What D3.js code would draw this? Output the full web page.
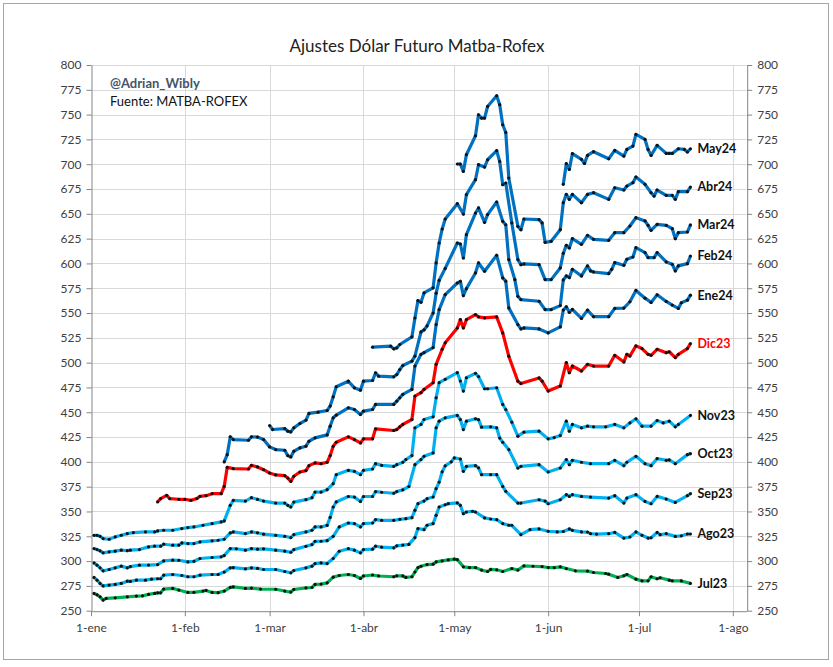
<!DOCTYPE html>
<html>
<head>
<meta charset="utf-8">
<script src="https://cdn.jsdelivr.net/npm/d3@7"></script>
<style>
  body { margin: 0; background: #fff; }
  svg text { font-family: Lato, "Open Sans", sans-serif; }
</style>
</head>
<body>
<svg width="833" height="667"></svg>
<script>
// Ajustes diarios por contrato: [fecha "MM-DD" 2023, ajuste]
var jul23 = [["01-02",267.4],["01-03",266],["01-04",264],["01-05",260.7],["01-06",262.4],["01-09",263],["01-13",264],["01-16",264.7],["01-18",265],["01-20",266.4],["01-22",267.4],["01-23",268],["01-24",268],["01-25",271.8],["01-28",272.5],["01-30",270.8],["02-02",268.4],["02-04",268.5],["02-07",269.8],["02-08",270.4],["02-10",268.4],["02-12",268.2],["02-14",269.8],["02-16",273.5],["02-17",274],["02-21",272.5],["02-23",272.8],["02-26",271.8],["03-03",271.6],["03-06",269.8],["03-08",268.8],["03-09",271.4],["03-13",273],["03-15",273.4],["03-16",276.5],["03-18",276.8],["03-20",278],["03-22",283.8],["03-24",285.5],["03-27",286.5],["03-29",285.5],["03-31",282.5],["04-01",285],["04-04",286],["04-06",285],["04-11",284.2],["04-12",285.2],["04-14",285],["04-15",283.5],["04-17",284.2],["04-18",289],["04-19",293.5],["04-20",294.8],["04-22",296.5],["04-24",296.9],["04-25",299.2],["04-27",300.2],["04-29",301.2],["05-01",301.9],["05-02",301.5],["05-04",294.2],["05-06",293.5],["05-08",293.5],["05-10",290.9],["05-12",289.5],["05-13",291.6],["05-15",291.2],["05-17",289.5],["05-20",292.5],["05-22",290.9],["05-24",295.2],["05-27",294.8],["05-30",294.5],["06-01",293.5],["06-03",293.4],["06-05",294.2],["06-07",292.5],["06-10",290.2],["06-14",289.9],["06-16",288.5],["06-20",287.5],["06-21",286.8],["06-24",283.5],["06-26",285.2],["06-27",286.5],["06-30",281.8],["07-02",280.1],["07-04",280.1],["07-05",284.2],["07-07",282.2],["07-08",283.2],["07-11",280.8],["07-12",280.1],["07-15",280],["07-18",277.5]];

var ago23 = [["01-02",283.5],["01-03",280.8],["01-04",277.5],["01-05",275],["01-07",275.8],["01-09",276.5],["01-11",277.5],["01-13",279.8],["01-14",279.5],["01-16",280.8],["01-19",280.8],["01-21",281.8],["01-23",282.2],["01-24",282.2],["01-25",285.8],["01-28",286.5],["01-31",285.5],["02-02",284.2],["02-04",284.2],["02-06",285.8],["02-10",286.5],["02-12",286.5],["02-14",288.9],["02-16",293.2],["02-17",293.5],["02-21",292.2],["02-23",293.2],["02-25",292.6],["02-27",291.5],["03-03",291.5],["03-06",289.5],["03-08",288.2],["03-09",290.5],["03-13",293.2],["03-15",294.9],["03-16",297.5],["03-18",298.2],["03-20",297.5],["03-22",302.6],["03-24",309.9],["03-27",312.5],["03-29",311],["03-31",308.3],["04-01",311.6],["04-04",312],["04-05",315],["04-07",314],["04-11",313.4],["04-12",315.4],["04-14",316.1],["04-16",316.8],["04-18",323.7],["04-19",332.8],["04-21",331.7],["04-22",336.1],["04-24",337.8],["04-25",346.1],["04-26",354.5],["04-28",356.8],["04-29",357.9],["05-02",358.6],["05-03",356.2],["05-04",347.8],["05-05",349.5],["05-07",350.2],["05-08",349.5],["05-11",343.5],["05-13",342.4],["05-15",341.7],["05-17",337.8],["05-19",336.1],["05-20",336.1],["05-23",326.7],["05-26",331.7],["05-29",332.4],["06-01",330.1],["06-04",329.4],["06-06",329.8],["06-08",332.4],["06-09",331],["06-12",329.4],["06-14",329.2],["06-15",327.6],["06-17",327.2],["06-21",327.6],["06-23",328.9],["06-26",323.2],["06-28",324.3],["06-30",329.4],["07-02",326],["07-04",323.2],["07-05",323.5],["07-07",328.9],["07-08",326.6],["07-10",327.6],["07-13",324.9],["07-15",325.5],["07-17",327.3],["07-18",327.3]];

var sep23 = [["01-02",298.2],["01-03",295.9],["01-04",293.2],["01-05",290.2],["01-07",291.5],["01-09",293.2],["01-11",294.9],["01-13",293.2],["01-14",294.5],["01-17",295.9],["01-20",296],["01-23",296.5],["01-25",300.2],["01-28",300.9],["01-30",300.8],["02-02",299.2],["02-04",299.8],["02-06",302.6],["02-10",303.6],["02-13",304.3],["02-14",305.6],["02-16",312.6],["02-18",312.4],["02-21",311],["02-23",312.6],["02-25",312],["02-27",312.4],["03-03",311],["03-06",310],["03-08",308.9],["03-09",311.6],["03-13",314.9],["03-15",316.6],["03-16",319.9],["03-18",320],["03-20",320.6],["03-22",325],["03-24",334.4],["03-27",338.4],["03-29",337.8],["03-31",334.4],["04-01",337.8],["04-04",338.4],["04-05",341.8],["04-07",341.1],["04-11",341.1],["04-13",342.1],["04-15",342.8],["04-17",343.8],["04-18",351.2],["04-19",357.9],["04-21",360.5],["04-22",362.9],["04-24",364.6],["04-25",373],["04-26",379.6],["04-27",390],["04-28",396],["04-30",400],["05-01",404],["05-03",402.9],["05-04",390.5],["05-05",395.5],["05-08",396.2],["05-09",394],["05-10",387.1],["05-13",387.1],["05-15",387.1],["05-17",375.3],["05-18",370.3],["05-22",358.5],["05-23",358.5],["05-29",361.8],["05-31",360.5],["06-01",357.8],["06-05",361.8],["06-07",366.9],["06-08",365.2],["06-09",366.9],["06-12",365.2],["06-15",364.5],["06-21",363.5],["06-23",365.9],["06-26",358.5],["06-27",363.5],["06-30",366.9],["07-03",360.1],["07-05",357.8],["07-07",365.2],["07-10",362.5],["07-13",359.1],["07-17",365.9],["07-18",367.9]];

var oct23 = [["01-02",312.6],["01-03",311.6],["01-04",310.3],["01-05",308.3],["01-07",309.3],["01-09",310],["01-11",311],["01-13",310.5],["01-14",311],["01-17",311.6],["01-20",314.3],["01-22",315],["01-24",315],["01-25",317],["01-28",316],["01-30",316],["01-31",318.3],["02-02",317.7],["02-04",317.7],["02-06",319.3],["02-10",320.4],["02-12",321],["02-14",322],["02-16",328.4],["02-17",329.4],["02-21",327.7],["02-23",329.4],["02-25",328.5],["02-27",327.1],["03-03",326],["03-06",325],["03-08",323.7],["03-09",326.7],["03-13",329.4],["03-15",331.1],["03-16",334.4],["03-18",334.4],["03-20",336],["03-21",344],["03-22",354.5],["03-23",359.6],["03-27",365.1],["03-29",364.5],["03-31",360.1],["04-01",365.1],["04-04",365.1],["04-05",370.1],["04-07",369.4],["04-11",368.4],["04-12",370.1],["04-14",371.8],["04-16",375.2],["04-18",397.2],["04-20",402.3],["04-21",405.6],["04-24",409],["04-25",434.3],["04-26",441],["04-28",444.4],["05-02",446.8],["05-03",442.7],["05-04",432.6],["05-05",441],["05-08",443.4],["05-09",442.5],["05-10",435],["05-13",435.3],["05-15",434.3],["05-16",424],["05-17",419.8],["05-19",412.4],["05-22",393.8],["05-23",395.5],["05-29",397.2],["06-01",389.8],["06-05",393.8],["06-07",402.3],["06-08",397.2],["06-09",401.6],["06-12",399.6],["06-15",398.2],["06-21",398.2],["06-23",401.6],["06-26",396.2],["06-27",399.6],["06-30",405.6],["07-03",398.2],["07-05",396.2],["07-07",403.3],["07-10",401.6],["07-11",402],["07-13",398.2],["07-17",407.3],["07-18",408.3]];

var nov23 = [["01-02",326],["01-03",326],["01-04",325],["01-05",322.7],["01-07",322],["01-09",324.4],["01-11",326],["01-13",327.7],["01-15",328.7],["01-19",329.4],["01-22",329.4],["01-23",330.4],["01-25",331.1],["01-28",331.1],["01-31",332.8],["02-02",333.8],["02-04",334.4],["02-07",336.1],["02-10",337.8],["02-13",339.5],["02-14",340.5],["02-16",356.2],["02-17",361.2],["02-21",360.5],["02-23",363.9],["02-25",362.2],["02-27",360.5],["03-03",358.5],["03-06",358.5],["03-07",356.2],["03-08",354.5],["03-09",359.5],["03-13",361.9],["03-15",363.9],["03-16",369.6],["03-18",369.6],["03-20",372],["03-22",378],["03-23",387.1],["03-27",391.5],["03-29",390.5],["03-31",387.1],["04-01",391.5],["04-04",392.8],["04-05",398.2],["04-07",396.5],["04-11",395.5],["04-12",397.2],["04-14",399.6],["04-15",402.3],["04-17",406.3],["04-18",434.3],["04-20",437.7],["04-21",442.7],["04-24",445.4],["04-25",464.6],["04-26",479.8],["04-28",483.2],["05-02",489.9],["05-03",481.5],["05-04",471.4],["05-05",484.8],["05-08",489.2],["05-09",486],["05-11",473.7],["05-12",473.7],["05-15",474.7],["05-17",457.9],["05-18",452.8],["05-20",440],["05-22",425.9],["05-24",429.9],["05-29",430.9],["06-01",423.2],["06-03",424.5],["06-05",426.5],["06-07",441],["06-08",430.9],["06-09",437.7],["06-12",434.3],["06-14",436],["06-16",435.3],["06-20",435.3],["06-23",437.7],["06-26",434.3],["06-28",439.3],["06-30",443.4],["07-02",436],["07-05",436],["07-07",441.7],["07-09",439.3],["07-11",441],["07-13",435.3],["07-14",437.7],["07-18",446.8]];

var dic23 = [["01-23",359.6],["01-24",363],["01-26",366.3],["01-27",363],["01-30",362.3],["02-01",362.3],["02-03",361.2],["02-05",363],["02-06",365.3],["02-08",365.9],["02-10",367.9],["02-13",367.9],["02-14",375.3],["02-15",394.5],["02-17",393.2],["02-22",392.8],["02-23",396.5],["02-25",394.9],["02-27",392.1],["03-01",388.8],["03-03",386.8],["03-06",386.1],["03-07",383.7],["03-08",380.4],["03-09",385.5],["03-11",389.8],["03-13",391.2],["03-14",396.2],["03-16",398.9],["03-18",398.2],["03-20",399.6],["03-21",406.3],["03-22",415.7],["03-23",419.8],["03-27",425.2],["03-29",422.5],["03-31",419.1],["04-01",423.2],["04-04",423.2],["04-05",433.3],["04-11",431.6],["04-12",432.6],["04-13",435.3],["04-14",437.7],["04-17",442.7],["04-18",466.3],["04-20",469.7],["04-21",473],["04-24",479.8],["04-25",498.3],["04-27",513.5],["04-28",520],["05-02",535],["05-03",543.4],["05-04",535],["05-05",543.4],["05-08",548.5],["05-09",546.1],["05-11",545.1],["05-15",546.1],["05-17",530],["05-19",506.5],["05-22",481.3],["05-23",478.9],["05-29",484.6],["05-30",481.3],["06-01",471.4],["06-05",476.4],["06-07",500],["06-08",489.9],["06-09",496.6],["06-12",491.6],["06-14",498.3],["06-16",496.6],["06-21",496.6],["06-23",507.4],["06-26",500.7],["06-27",508.4],["06-28",506.7],["06-30",516.9],["07-02",514.2],["07-04",508.4],["07-05",507.4],["07-07",513.5],["07-10",510.1],["07-11",511],["07-13",505.1],["07-14",508.4],["07-17",514.2],["07-18",519.2]];

var ene24 = [["02-14",399.9],["02-15",407.3],["02-16",425.2],["02-17",422.5],["02-22",421.8],["02-23",425.2],["02-25",425],["02-27",422.5],["03-01",415.1],["03-03",412.4],["03-06",411.7],["03-07",406.3],["03-08",405],["03-09",410.7],["03-11",414.1],["03-13",415.8],["03-14",420.8],["03-16",424.2],["03-20",427.2],["03-21",436],["03-22",444.4],["03-23",447.1],["03-27",454.5],["03-29",452.8],["03-31",447.8],["04-01",451.1],["04-04",452.8],["04-05",457.9],["04-11",457.9],["04-12",461.2],["04-13",464.6],["04-14",468],["04-17",473],["04-18",496.6],["04-20",508.4],["04-21",510.1],["04-24",515.2],["04-25",538.4],["04-26",553.5],["04-28",568.6],["05-02",580.3],["05-03",582],["05-04",567.6],["05-05",574.6],["05-08",590.4],["05-09",600.5],["05-11",592.1],["05-15",608.2],["05-17",585.4],["05-18",582.1],["05-19",555.2],["05-22",538.4],["05-23",534],["05-24",535],["05-29",534],["06-01",530],["06-05",536],["06-06",553],["06-07",556.3],["06-08",550.7],["06-09",553.7],["06-12",544.6],["06-14",553],["06-16",546.3],["06-21",546.3],["06-23",554.7],["06-26",555],["06-28",561.4],["06-30",572.8],["07-03",565],["07-05",560.7],["07-07",568.4],["07-10",561.7],["07-12",558],["07-14",554.7],["07-15",560.4],["07-17",563],["07-18",568]];

var feb24 = [["03-01",436.6],["03-02",432.6],["03-06",433.6],["03-07",430.9],["03-08",430.2],["03-09",434.3],["03-11",438.7],["03-13",442],["03-14",448.8],["03-17",450.1],["03-20",451.8],["03-21",456.2],["03-22",465.6],["03-23",475.7],["03-27",481.3],["03-29",474.6],["03-31",472.3],["04-01",481.3],["04-04",482],["04-05",489.7],["04-06",486.4],["04-11",485.7],["04-12",488],["04-13",493],["04-14",497.1],["04-17",501.5],["04-18",506.5],["04-20",531],["04-21",533],["04-22",537],["04-24",550],["04-25",570],["04-26",583],["04-28",595],["05-02",620.6],["05-03",619.6],["05-04",605.5],["05-05",629],["05-08",650.8],["05-09",655.9],["05-11",641.4],["05-12",649.2],["05-15",661.9],["05-17",642.4],["05-18",639],["05-19",603.9],["05-21",583.7],["05-22",566.9],["05-23",563.6],["05-29",561.9],["05-31",553.5],["06-02",553.5],["06-05",557.5],["06-06",583.4],["06-07",587.4],["06-08",585.7],["06-09",594.1],["06-12",587.4],["06-14",597.5],["06-15",592.5],["06-16",591.4],["06-21",589.8],["06-22",594.1],["06-23",600.8],["06-26",598.1],["06-27",604.2],["06-29",606.5],["06-30",615.9],["07-03",610.9],["07-04",605.9],["07-06",605.9],["07-07",610.9],["07-10",601.5],["07-12",599.2],["07-13",592.5],["07-14",597.5],["07-17",599.8],["07-18",607.5]];

var mar24 = [["04-04",515.6],["04-10",516.6],["04-11",513.9],["04-12",514.9],["04-13",518.3],["04-17",525.9],["04-18",545],["04-19",562.6],["04-20",560.9],["04-21",570.3],["04-24",575.4],["04-25",600.5],["04-26",620.6],["04-27",634.7],["04-28",644.8],["05-02",660.2],["05-04",649.8],["05-05",669.3],["05-08",684.4],["05-09",699.5],["05-11",697.1],["05-12",704.5],["05-15",713.6],["05-16",702.8],["05-17",679.4],["05-18",681],["05-20",640.8],["05-22",603.9],["05-23",598.8],["05-24",599.5],["05-29",598.8],["05-31",583.7],["06-02",583.7],["06-05",595.5],["06-06",610.2],["06-07",618.3],["06-08",615.6],["06-09",625],["06-12",619.3],["06-14",628.3],["06-16",624.3],["06-21",623.3],["06-23",631],["06-26",631],["06-28",637.7],["06-30",646.1],["07-03",642.8],["07-04",638.4],["07-05",633.4],["07-07",639.4],["07-10",638.4],["07-12",635],["07-13",625],["07-14",631],["07-17",631.7],["07-18",638.8]];

var abr24 = [["05-02",700.2],["05-03",700.2],["05-04",692.8],["05-05",709.6],["05-08",728.7],["05-09",749.8],["05-10",746.5],["05-11",746.5],["05-12",758.2],["05-15",769],["05-16",760],["05-17",739.8],["05-18",732],["05-19",686.1],["05-22",637.4],["05-23",634],["05-24",644.8],["05-29",644.1],["05-30",640.8],["05-31",621.3],["06-02",622.3],["06-05",634],["06-06",661.2],["06-07",669.6],["06-08",664.6],["06-09",669.6],["06-12",661.2],["06-14",669.6],["06-16",671.3],["06-21",664.6],["06-23",676.3],["06-26",674],["06-27",678],["06-29",681.4],["06-30",687.1],["07-03",679.7],["07-05",671.3],["07-06",667.9],["07-07",674],["07-10",668.6],["07-12",668.6],["07-13",664.6],["07-14",672.3],["07-17",672.3],["07-18",677]];

var may24 = [["06-06",679.7],["06-07",700.5],["06-08",694.8],["06-09",710.6],["06-12",704.9],["06-13",700.8],["06-14",708.9],["06-16",712.6],["06-21",705.5],["06-23",713.9],["06-26",708.2],["06-27",714.9],["06-29",718.3],["06-30",730],["07-03",725],["07-04",714.9],["07-05",708.9],["07-07",719],["07-10",710.9],["07-11",710.9],["07-12",710.9],["07-14",715.6],["07-16",714.9],["07-17",712.3],["07-18",715.6]];

var seriesNames = ["Jul23", "Ago23", "Sep23", "Oct23", "Nov23", "Dic23", "Ene24", "Feb24", "Mar24", "Abr24", "May24"];
var seriesValues = [jul23, ago23, sep23, oct23, nov23, dic23, ene24, feb24, mar24, abr24, may24];
var seriesColors = ["#00b050", "#00b0f0", "#00b0f0", "#00b0f0", "#00b0f0", "#ff0000", "#0070c0", "#0070c0", "#0070c0", "#0070c0", "#0070c0"];

var yTicks = [250, 275, 300, 325, 350, 375, 400, 425, 450, 475, 500, 525, 550, 575, 600, 625, 650, 675, 700, 725, 750, 775, 800];
var monthTicks = ["2023-01-01", "2023-02-01", "2023-03-01", "2023-04-01", "2023-05-01", "2023-06-01", "2023-07-01", "2023-08-01"];
var monthLabels = ["1-ene", "1-feb", "1-mar", "1-abr", "1-may", "1-jun", "1-jul", "1-ago"];

var svg = d3.select("svg"),
    width = +svg.attr("width"),
    height = +svg.attr("height");

var parse = d3.timeParse("%Y-%m-%d");
var plotL = 91, plotR = 746.7, plotT = 65, plotB = 610.7;

var x = d3.scaleTime()
    .domain([parse("2023-01-01"), new Date(2023, 7, 5, 14)])
    .range([plotL, plotR]);
var y = d3.scaleLinear()
    .domain([250, 800])
    .range([plotB, plotT]);

// chart frame
svg.append("rect")
    .attr("x", 3.5).attr("y", 3.5)
    .attr("width", 825).attr("height", 656)
    .attr("fill", "#fff")
    .attr("stroke", "#a6a6a6");

// gridlines
svg.append("g").selectAll("line")
    .data(yTicks.slice(1))
    .enter().append("line")
    .attr("x1", plotL).attr("x2", plotR)
    .attr("y1", function(d) { return Math.round(y(d)) + 0.5; })
    .attr("y2", function(d) { return Math.round(y(d)) + 0.5; })
    .attr("stroke", "#d9d9d9");
svg.append("g").selectAll("line")
    .data(monthTicks.slice(1))
    .enter().append("line")
    .attr("x1", function(d) { return Math.round(x(parse(d))) + 0.5; })
    .attr("x2", function(d) { return Math.round(x(parse(d))) + 0.5; })
    .attr("y1", plotT).attr("y2", plotB)
    .attr("stroke", "#d9d9d9");

// axes
function styleAxis(g) {
    g.selectAll(".domain").attr("stroke", "#868686");
    g.selectAll(".tick line").attr("stroke", "#868686");
    g.selectAll("text").attr("fill", "#404040").style("font-size", "12px");
}
svg.append("g")
    .attr("transform", "translate(" + (plotL + 0.5) + ",0)")
    .call(d3.axisLeft(y).tickValues(yTicks).tickSize(5).tickSizeOuter(0).tickPadding(5))
    .call(styleAxis);
svg.append("g")
    .attr("transform", "translate(" + (plotR + 0.5) + ",0)")
    .call(d3.axisRight(y).tickValues(yTicks).tickSize(5).tickSizeOuter(0).tickPadding(5))
    .call(styleAxis);
svg.append("g")
    .attr("transform", "translate(0," + (plotB + 0.5) + ")")
    .call(d3.axisBottom(x)
        .tickValues(monthTicks.map(parse))
        .tickFormat(function(d, i) { return monthLabels[i]; })
        .tickSize(5).tickSizeOuter(0).tickPadding(7))
    .call(styleAxis);

// lines and markers
var line = d3.line()
    .x(function(d) { return x(parse("2023-" + d[0])); })
    .y(function(d) { return y(d[1]); });

seriesValues.forEach(function(vals, i) {
    var g = svg.append("g").attr("class", "serie");
    g.append("path")
        .datum(vals)
        .attr("d", line)
        .attr("fill", "none")
        .attr("stroke", seriesColors[i])
        .attr("stroke-width", 3.2)
        .attr("stroke-linejoin", "round");
    g.selectAll("circle")
        .data(vals)
        .enter().append("circle")
        .attr("cx", function(d) { return x(parse("2023-" + d[0])); })
        .attr("cy", function(d) { return y(d[1]); })
        .attr("r", 1.6)
        .attr("fill", "#111");
    var last = vals[vals.length - 1];
    g.append("text")
        .attr("x", x(parse("2023-" + last[0])) + 7)
        .attr("y", y(last[1]))
        .attr("dy", "0.35em")
        .style("font-size", "12.5px")
        .style("font-weight", "bold")
        .attr("fill", i == 5 ? "#ff0000" : "#111")
        .text(seriesNames[i]);
});

// titles
svg.append("text")
    .attr("x", 417).attr("y", 52)
    .attr("text-anchor", "middle")
    .style("font-size", "17px")
    .attr("fill", "#222")
    .text("Ajustes Dólar Futuro Matba-Rofex");
svg.append("text")
    .attr("x", 110).attr("y", 88)
    .style("font-size", "13px")
    .style("font-weight", "bold")
    .attr("fill", "#44546a")
    .text("@Adrian_Wibly");
svg.append("text")
    .attr("x", 110).attr("y", 106)
    .style("font-size", "13px")
    .attr("fill", "#111")
    .text("Fuente: MATBA-ROFEX");
</script>
</body>
</html>
